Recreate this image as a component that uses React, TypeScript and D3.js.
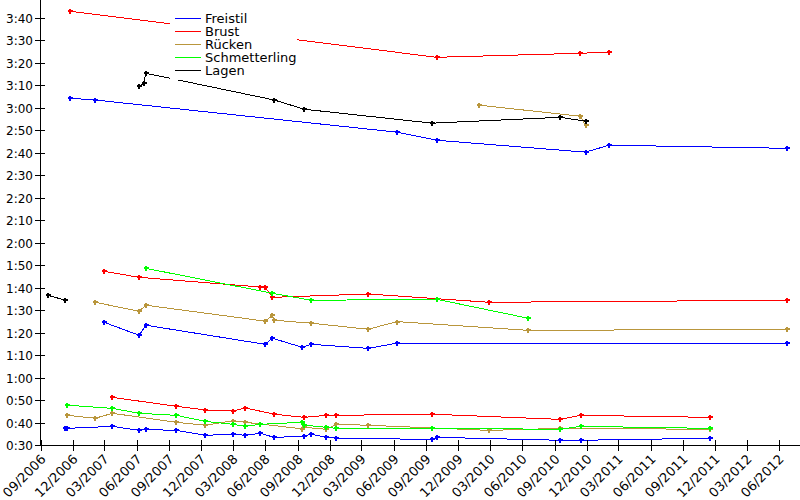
import * as d3 from "d3";

// times in seconds, dates of the meets
const freistil50: [string, number][] = [
  ["2006-11-10", 37.4], ["2006-11-16", 37.4], ["2007-03-24", 38.3], ["2007-06-08", 36.5],
  ["2007-06-27", 36.9], ["2007-09-22", 36.5], ["2007-12-13", 34.3], ["2008-03-01", 34.8],
  ["2008-04-05", 34.3], ["2008-05-17", 35.2], ["2008-06-26", 33.4], ["2008-09-19", 33.9],
  ["2008-10-09", 34.8], ["2008-11-20", 33.4], ["2008-12-20", 33.0], ["2009-09-18", 32.5],
  ["2009-10-02", 33.4], ["2010-09-17", 32.1], ["2010-11-14", 32.1], ["2011-11-18", 33.0],
];
const freistil100: [string, number][] = [
  ["2007-02-28", 84.6], ["2007-06-08", 78.8], ["2007-06-27", 83.3], ["2008-05-31", 74.8],
  ["2008-06-21", 77.5], ["2008-09-13", 73.5], ["2008-10-09", 74.8], ["2009-03-20", 73.0],
  ["2009-06-10", 75.3], ["2012-06-23", 75.3],
];
const freistil200: [string, number][] = [
  ["2006-11-23", 184.3], ["2007-02-03", 183.5], ["2009-06-10", 169.2], ["2009-10-01", 165.6],
  ["2010-11-28", 160.3], ["2011-02-03", 163.4], ["2012-06-23", 162.0],
];
const brust50: [string, number][] = [
  ["2007-03-24", 51.2], ["2007-09-22", 47.2], ["2007-12-13", 45.6], ["2008-03-01", 45.1],
  ["2008-04-05", 46.5], ["2008-06-26", 43.7], ["2008-09-19", 42.3], ["2008-11-20", 43.2],
  ["2008-12-20", 43.2], ["2009-09-18", 43.7], ["2010-09-17", 41.4], ["2010-11-14", 43.2],
  ["2011-11-18", 42.3],
];
const brust100: [string, number][] = [
  ["2007-02-28", 107.3], ["2007-06-08", 104.6], ["2008-05-17", 100.3], ["2008-05-31", 100.3],
  ["2008-06-21", 95.7], ["2009-03-20", 97.2], ["2010-02-27", 93.5], ["2012-06-23", 94.4],
];
const brust200: [string, number][] = [
  ["2006-11-23", 223.0], ["2009-10-01", 202.5], ["2010-11-13", 204.3], ["2011-02-03", 204.8],
];
const ruecken50: [string, number][] = [
  ["2006-11-16", 43.2], ["2007-02-03", 41.9], ["2007-03-24", 44.1], ["2007-09-22", 40.1],
  ["2007-12-13", 38.8], ["2008-03-01", 40.8], ["2008-04-05", 40.1], ["2008-09-13", 37.2],
  ["2008-09-19", 37.9], ["2008-11-20", 37.0], ["2008-12-20", 39.2], ["2009-03-20", 38.8],
  ["2010-02-27", 36.5], ["2010-09-17", 37.4], ["2011-11-18", 37.0],
];
const ruecken100: [string, number][] = [
  ["2007-02-03", 93.5], ["2007-06-08", 89.5], ["2007-06-27", 92.2], ["2008-05-31", 85.1],
  ["2008-06-21", 87.7], ["2008-06-26", 85.5], ["2008-10-09", 84.2], ["2009-03-20", 81.5],
  ["2009-06-10", 84.9], ["2010-06-18", 81.0], ["2012-06-23", 81.5],
];
const ruecken200: [string, number][] = [
  ["2010-01-30", 181.2], ["2010-11-13", 176.3], ["2010-11-28", 172.3],
];
const schmetterling50: [string, number][] = [
  ["2006-11-16", 47.7], ["2007-03-24", 46.3], ["2007-06-08", 44.1], ["2007-09-22", 43.2],
  ["2007-12-13", 40.5], ["2008-03-01", 39.2], ["2008-04-05", 38.3], ["2008-05-17", 39.2],
  ["2008-09-13", 40.1], ["2008-09-19", 38.8], ["2008-11-20", 37.9], ["2008-12-20", 37.4],
  ["2009-09-18", 37.4], ["2010-09-17", 37.0], ["2010-11-14", 38.3], ["2011-11-18", 37.4],
];
const schmetterling100: [string, number][] = [
  ["2007-06-27", 108.6], ["2008-06-21", 97.5], ["2008-10-09", 94.4], ["2009-10-02", 94.8],
  ["2010-06-18", 86.4],
];
const lagen100: [string, number][] = [
  ["2006-09-22", 96.6], ["2006-11-10", 94.4],
];
const lagen200: [string, number][] = [
  ["2007-06-08", 189.6], ["2007-06-21", 191.0], ["2007-06-27", 195.4], ["2008-06-26", 183.5],
  ["2008-09-19", 179.4], ["2009-09-18", 173.2], ["2010-09-17", 175.8], ["2010-11-28", 174.1],
];

const strokeNames = ["Freistil", "Brust", "Rücken", "Schmetterling", "Lagen"];
const strokeColors = ["#0000ff", "#ff0000", "#b9963c", "#00ff00", "#000000"];
const strokeLines = [
  [freistil50, freistil100, freistil200],
  [brust50, brust100, brust200],
  [ruecken50, ruecken100, ruecken200],
  [schmetterling50, schmetterling100],
  [lagen100, lagen200],
];

const parse = d3.utcParse("%Y-%m-%d");
const fmtTime = (s: number) => `${Math.floor(s / 60)}:${String(s % 60).padStart(2, "0")}`;

export default function App() {
  const width = 800;
  const height = 500;
  const left = 40.5;
  const bottom = 445;

  const x = d3
    .scaleUtc()
    .domain([parse("2006-09-01")!, parse("2012-06-01")!])
    .range([40.7, 779.3]);
  const y = d3.scaleLinear().domain([30, 228]).range([bottom, 0]);

  const xTicks = d3.utcMonth.range(parse("2006-09-01")!, parse("2012-06-02")!, 3);
  const yTicks = d3.range(30, 221, 10);

  const line = d3
    .line<[string, number]>()
    .x((d) => x(parse(d[0])!))
    .y((d) => y(d[1]));

  return (
    <svg
      width={width}
      height={height}
      style={{ position: "absolute", left: 0, top: 0, background: "#fff" }}
      fontFamily="DejaVu Sans, sans-serif"
    >
      {/* series */}
      {strokeLines.map((lines, i) => (
        <g key={strokeNames[i]} stroke={strokeColors[i]} fill="none">
          {lines.map((pts, j) => (
            <g key={j}>
              <path d={line(pts)!} strokeWidth={1} shapeRendering="crispEdges" />
              {pts.map((d, k) => (
                <path
                  key={k}
                  transform={`translate(${Math.round(x(parse(d[0])!))},${Math.round(y(d[1]))})`}
                  d="M-2.5,0H2.5M0,-2.5V2.5"
                  strokeWidth={2}
                  shapeRendering="crispEdges"
                />
              ))}
            </g>
          ))}
        </g>
      ))}

      {/* legend */}
      <rect x={170} y={10} width={127} height={70} fill="#fff" />
      {strokeNames.map((name, i) => (
        <g key={name} transform={`translate(0,${18.5 + i * 13})`}>
          <line x1={175} x2={201} y1={0} y2={0} stroke={strokeColors[i]} shapeRendering="crispEdges" />
          <text x={205} y={4.5} fontSize={13} fill="#000">
            {name}
          </text>
        </g>
      ))}

      {/* axes */}
      <g stroke="#000" shapeRendering="crispEdges">
        <line x1={left} x2={left} y1={0} y2={bottom} />
        <line x1={left} x2={width} y1={bottom} y2={bottom} />
      </g>
      {yTicks.map((t) => (
        <g key={t} transform={`translate(0,${Math.round(y(t)) + 0.5})`}>
          <line x1={35} x2={45} stroke="#000" shapeRendering="crispEdges" />
          <text x={33} y={4.5} fontSize={12} textAnchor="end" fill="#000">
            {fmtTime(t)}
          </text>
        </g>
      ))}
      {xTicks.map((t) => {
        const tx = Math.round(x(t)) + 0.5;
        return (
          <g key={t.getTime()}>
            <line x1={tx} x2={tx} y1={440} y2={451} stroke="#000" shapeRendering="crispEdges" />
            <text
              transform={`translate(${tx + 5},${460}) rotate(-45)`}
              fontSize={13}
              textAnchor="end"
              fill="#000"
            >
              {d3.utcFormat("%m/%Y")(t)}
            </text>
          </g>
        );
      })}
    </svg>
  );
}
